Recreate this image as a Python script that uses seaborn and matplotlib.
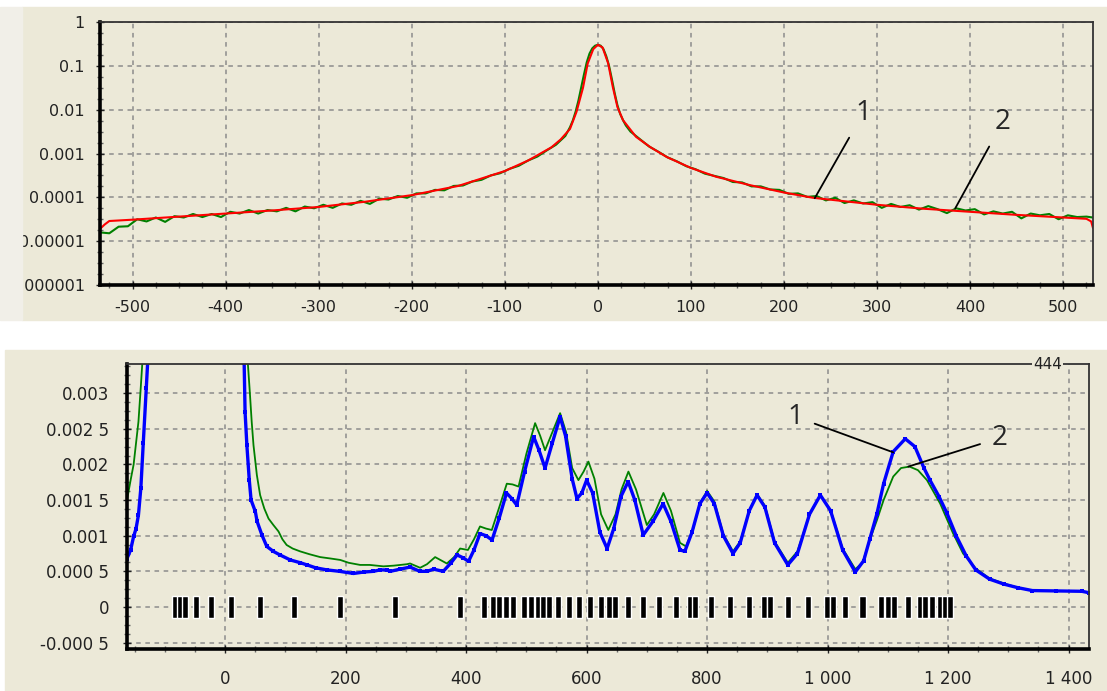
import matplotlib
matplotlib.use("Agg")
import matplotlib.pyplot as plt
import matplotlib.ticker as mticker
from matplotlib.patches import Rectangle
import numpy as np
import seaborn as sns

# ---------------- top panel: profile on log scale (values are log10) ----------------
red_x = [-535, -530, -525, -500, -450, -400, -350, -300, -250, -200,
         -150, -100, -75, -50, -40, -30, -23, -16, -11, -5,
         0, 5, 11, 16, 21, 27, 41, 56, 74, 100,
         127, 163, 200, 231, 300, 350, 400, 450, 500, 525,
         530, 532]
red_log = [-4.72, -4.62, -4.54, -4.51, -4.44, -4.37, -4.30, -4.22, -4.10, -3.95,
           -3.74, -3.40, -3.16, -2.86, -2.68, -2.44, -2.05, -1.50, -0.95, -0.62,
           -0.52, -0.58, -0.94, -1.48, -1.94, -2.24, -2.62, -2.85, -3.08, -3.33,
           -3.53, -3.72, -3.89, -4.01, -4.17, -4.26, -4.33, -4.40, -4.46, -4.49,
           -4.55, -4.70]

# measured (noisy) curve, sampled: left tail / centre / right tail
green_left_x = list(range(-535, -34, 10))
green_left_log = [-4.80, -4.82, -4.67, -4.66, -4.50, -4.55, -4.46, -4.56, -4.43, -4.46,
                  -4.38, -4.45, -4.38, -4.45, -4.33, -4.37, -4.29, -4.37, -4.29, -4.32,
                  -4.24, -4.32, -4.21, -4.25, -4.17, -4.24, -4.14, -4.17, -4.08, -4.15,
                  -4.03, -4.05, -3.97, -4.01, -3.91, -3.91, -3.83, -3.84, -3.74, -3.73,
                  -3.64, -3.60, -3.50, -3.45, -3.35, -3.28, -3.16, -3.07, -2.93, -2.80,
                  -2.60]
green_mid_x = list(range(-30, 31, 3))
green_mid_log = [-2.40, -2.25, -2.05, -1.80, -1.50, -1.20, -0.92, -0.72, -0.60, -0.54,
                 -0.52, -0.54, -0.62, -0.78, -1.00, -1.30, -1.62, -1.90, -2.10, -2.24,
                 -2.36]
green_right_x = list(range(35, 536, 10))
green_right_log = [-2.50, -2.67, -2.84, -2.96, -3.09, -3.18, -3.29, -3.36, -3.46, -3.51,
                   -3.56, -3.65, -3.66, -3.75, -3.75, -3.82, -3.83, -3.92, -3.91, -3.99,
                   -3.97, -4.07, -4.01, -4.13, -4.07, -4.14, -4.11, -4.24, -4.15, -4.22,
                   -4.18, -4.28, -4.20, -4.27, -4.36, -4.25, -4.30, -4.27, -4.39, -4.32,
                   -4.37, -4.33, -4.48, -4.37, -4.41, -4.38, -4.50, -4.41, -4.45, -4.44,
                   -4.47]

top_xticks = [-500, -400, -300, -200, -100, 0, 100, 200, 300, 400, 500]
top_yticks = [1e-6, 1e-5, 1e-4, 1e-3, 1e-2, 1e-1, 1]
top_ylabels = ["0.000001", "0.00001", "0.0001", "0.001", "0.01", "0.1", "1"]

# ---------------- bottom panel: spectrum (values in units of 1e-3) ----------------
blue_pts = [(-163, 0.68), (-157, 0.80), (-152, 0.99), (-148, 1.10), (-144, 1.29), (-140, 1.67),
            (-136, 2.30), (-131, 3.07), (-127, 3.70), (-120, 6.0), (-50, 300), (25, 6.0),
            (31.5, 3.42), (33, 2.74), (36, 2.27), (40, 1.78), (43, 1.50), (50, 1.34), (53, 1.20),
            (61, 1.01), (69, 0.85), (80, 0.78), (91, 0.73), (108, 0.66), (125, 0.62), (136, 0.59),
            (150, 0.55), (169, 0.52), (190, 0.50), (213, 0.47), (230, 0.49), (246, 0.50),
            (257, 0.52), (268, 0.52), (274, 0.50), (290, 0.53), (307, 0.56), (323, 0.50),
            (335, 0.50), (346, 0.53), (362, 0.50), (375, 0.62), (385, 0.73), (395, 0.69),
            (404, 0.64), (413, 0.80), (423, 1.03), (433, 1.00), (443, 0.94), (455, 1.25),
            (467, 1.60), (476, 1.52), (484, 1.43), (497, 1.90), (512, 2.39), (521, 2.20),
            (531, 1.95), (543, 2.30), (556, 2.67), (565, 2.40), (576, 1.80), (584, 1.52),
            (592, 1.60), (600, 1.78), (610, 1.60), (622, 1.05), (634, 0.82), (645, 1.10),
            (657, 1.55), (669, 1.76), (680, 1.50), (694, 1.01), (710, 1.20), (727, 1.45),
            (740, 1.20), (755, 0.80), (763, 0.78), (775, 1.05), (788, 1.45), (800, 1.60),
            (812, 1.45), (827, 1.00), (843, 0.75), (855, 0.90), (870, 1.35), (883, 1.57),
            (896, 1.40), (912, 0.90), (934, 0.59), (950, 0.75), (970, 1.30), (988, 1.57),
            (1005, 1.35), (1025, 0.80), (1046, 0.49), (1060, 0.65), (1070, 0.95), (1082, 1.31),
            (1093, 1.73), (1109, 2.18), (1129, 2.36), (1145, 2.25), (1160, 1.95), (1170, 1.78),
            (1185, 1.55), (1198, 1.32), (1214, 0.99), (1230, 0.72), (1246, 0.52), (1269, 0.39),
            (1293, 0.32), (1316, 0.27), (1340, 0.23), (1380, 0.225), (1422, 0.22), (1434, 0.20)]

green_pts = [(-163, 1.50), (-157, 1.78), (-152, 2.00), (-148, 2.30), (-144, 2.60), (-140, 3.10),
             (-137, 3.50), (-130, 6.0), (-50, 300), (35, 6.0), (37.6, 3.42), (41, 3.00),
             (44, 2.60), (47, 2.27), (52.6, 1.85), (58, 1.57), (65, 1.38), (72, 1.24), (80, 1.15),
             (88.5, 1.06), (95, 0.95), (102, 0.87), (112, 0.82), (124.5, 0.78), (140, 0.74),
             (157.7, 0.70), (175, 0.68), (191, 0.66), (205, 0.62), (224, 0.59), (240, 0.59),
             (262.7, 0.57), (280, 0.58), (301.6, 0.60), (307, 0.61), (323.6, 0.55), (335, 0.60),
             (348.5, 0.70), (368, 0.61), (380, 0.70), (390, 0.82), (403, 0.80), (413, 0.95),
             (423, 1.13), (433, 1.10), (442.6, 1.08), (455, 1.40), (467.5, 1.73), (477, 1.72),
             (487, 1.69), (500, 2.15), (514.5, 2.58), (523, 2.40), (531, 2.20), (543, 2.45),
             (556, 2.72), (566, 2.45), (576, 1.95), (586.4, 1.78), (595, 1.90), (603, 2.04),
             (613, 1.80), (624, 1.30), (636, 1.08), (648, 1.30), (658, 1.65), (669.4, 1.90),
             (682, 1.65), (700, 1.15), (712, 1.30), (727.5, 1.60), (740, 1.35), (755, 0.90),
             (765, 0.85), (777, 1.10), (788, 1.45), (800, 1.63), (812, 1.48), (827, 1.02),
             (843, 0.78), (855, 0.92), (870, 1.35), (883, 1.58), (896, 1.42), (912, 0.92),
             (934, 0.62), (950, 0.78), (970, 1.30), (988, 1.57), (1005, 1.36), (1025, 0.82),
             (1046, 0.53), (1058, 0.62), (1070, 0.94), (1082, 1.22), (1093, 1.50), (1109, 1.83),
             (1122, 1.95), (1136, 1.97), (1150, 1.92), (1165, 1.78), (1187, 1.45), (1208, 1.04),
             (1225, 0.75), (1246, 0.54), (1269, 0.40), (1293, 0.33), (1316, 0.27), (1340, 0.23),
             (1380, 0.225), (1422, 0.22), (1434, 0.20)]

# line positions shown as black marks on the zero line
line_pos = [-84, -75, -66, -48, -23, 10, 57, 114, 191, 282, 389,
            429, 444, 455, 466, 478, 496, 508, 519, 528, 538, 553, 570, 587, 606,
            624, 638, 647, 668, 693, 720, 748, 771, 780, 806, 838, 870, 895, 905,
            934, 968, 999, 1009, 1029, 1058, 1088, 1100, 1111, 1133, 1154, 1162,
            1173, 1187, 1195, 1203]

bot_xticks = [0, 200, 400, 600, 800, 1000, 1200, 1400]
bot_xlabels = ["0", "200", "400", "600", "800", "1 000", "1 200", "1 400"]
bot_yticks = [-0.0005, 0, 0.0005, 0.001, 0.0015, 0.002, 0.0025, 0.003]
bot_ylabels = ["-0.000 5", "0", "0.000 5", "0.001", "0.001 5", "0.002", "0.002 5", "0.003"]

# ---------------- figure ----------------
beige = "#ECE9D8"
sns.set_style("ticks")
plt.rcParams['font.family'] = ['DejaVu Sans']

W, H = 1107, 691
fig = plt.figure(figsize=(W / 100, H / 100), dpi=100, facecolor="white")


def box(l, t, r, b):
    return [l / W, 1 - b / H, (r - l) / W, (b - t) / H]


# window backgrounds
fig.patches.append(Rectangle((22 / W, 1 - 320 / H), (W - 22) / W, 313 / H,
                             transform=fig.transFigure, color=beige, zorder=-5))
fig.patches.append(Rectangle((5 / W, 0), (W - 5) / W, (H - 350) / H,
                             transform=fig.transFigure, color=beige, zorder=-5))

ax1 = fig.add_axes(box(100, 22, 1093, 285))
ax2 = fig.add_axes(box(127, 364, 1089, 649))

for ax in (ax1, ax2):
    ax.set_facecolor(beige)
    ax.set_axisbelow(True)
    ax.grid(True, which="major", color="#8c8c8c", linestyle=(0, (3, 3)), linewidth=1.1)
    for s in ("left", "bottom"):
        ax.spines[s].set_linewidth(2.6)
        ax.spines[s].set_color("black")
    for s in ("top", "right"):
        ax.spines[s].set_linewidth(1.3)
        ax.spines[s].set_color("#333333")
    ax.tick_params(which="major", direction="inout", length=6, width=1, color="#444444")
    ax.tick_params(which="minor", direction="inout", length=4, width=1, color="#666666")

# top panel
sns.lineplot(x=green_left_x + green_mid_x + green_right_x,
             y=10 ** np.array(green_left_log + green_mid_log + green_right_log),
             ax=ax1, color="#008000", linewidth=1.5)
sns.lineplot(x=red_x, y=10 ** np.array(red_log), ax=ax1, color="#ff0000", linewidth=1.5)
ax1.set_yscale("log")
ax1.set_xlim(-535, 532)
ax1.set_ylim(1e-6, 1)
ax1.set_xticks(top_xticks)
ax1.set_xticklabels([str(v) for v in top_xticks])
ax1.set_yticks(top_yticks)
ax1.set_yticklabels(top_ylabels)
ax1.xaxis.set_minor_locator(mticker.MultipleLocator(25))
ax1.yaxis.set_minor_locator(mticker.FixedLocator([10 ** (e + k / 4) for e in range(-6, 0) for k in (1, 2, 3)]))
ax1.yaxis.set_minor_formatter(mticker.NullFormatter())
ax1.tick_params(axis="both", labelsize=11.5, colors="#222222")
ax1.tick_params(axis="x", pad=8)
ax1.tick_params(axis="y", pad=8)
ax1.set_xlabel("")
ax1.set_ylabel("")

ann = dict(arrowstyle="-", color="black", lw=1.3, shrinkA=6, shrinkB=0)
ax1.annotate("1", xy=(233, 10 ** -4.02), xytext=(285, 10 ** -2.08), fontsize=20,
             family="Open Sans", ha="center", va="center", arrowprops=ann)
ax1.annotate("2", xy=(384, 10 ** -4.25), xytext=(435, 10 ** -2.28), fontsize=20,
             family="Open Sans", ha="center", va="center", arrowprops=ann)

# bottom panel
bx, by = zip(*blue_pts)
gx, gy = zip(*green_pts)
sns.lineplot(x=list(gx), y=np.array(gy) * 1e-3, ax=ax2, color="#008000", linewidth=1.3)
sns.lineplot(x=list(bx), y=np.array(by) * 1e-3, ax=ax2, color="#0000ff", linewidth=2.4,
             marker="s", markersize=3, markeredgewidth=0)
ax2.bar(line_pos, 0.00031, bottom=-0.000155, width=10, color="black", zorder=3)
ax2.set_xlim(-163, 1434)
ax2.set_ylim(-0.00059, 0.00341)
ax2.set_xticks(bot_xticks)
ax2.set_xticklabels(bot_xlabels)
ax2.set_yticks(bot_yticks)
ax2.set_yticklabels(bot_ylabels)
ax2.xaxis.set_minor_locator(mticker.MultipleLocator(50))
ax2.yaxis.set_minor_locator(mticker.MultipleLocator(0.000125))
ax2.tick_params(axis="both", labelsize=12, colors="#222222")
ax2.tick_params(axis="x", pad=12)
ax2.tick_params(axis="y", pad=10)
ax2.set_xlabel("")
ax2.set_ylabel("")

ax2.annotate("1", xy=(1109, 0.00217), xytext=(947, 0.00267), fontsize=20,
             family="Open Sans", ha="center", va="center", arrowprops=ann)
ax2.annotate("2", xy=(1134, 0.00197), xytext=(1285, 0.00237), fontsize=20,
             family="Open Sans", ha="center", va="center", arrowprops=ann)
ax2.text(0.957, 1.0, "444", transform=ax2.transAxes, ha="center", va="center",
         fontsize=11, color="#222222", clip_on=False, zorder=6,
         bbox=dict(facecolor=beige, edgecolor="none", pad=1))

# left strip of the top window hides the start of the long labels
fig.patches.append(Rectangle((0, 1 - 320 / H), 22 / W, 313 / H,
                             transform=fig.transFigure, color="#F1EFE8", zorder=10))

fig.savefig("out.png", dpi=100, facecolor="white")
